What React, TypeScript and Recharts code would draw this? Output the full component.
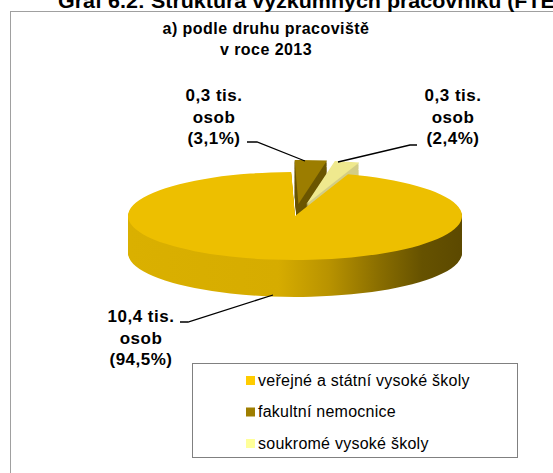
import React from "react";
import { PieChart, Pie, Cell } from "recharts";

// ─── Data ────────────────────────────────────────────────────────────────────

const CATEGORIES = [
  "veřejné a státní vysoké školy",
  "fakultní nemocnice",
  "soukromé vysoké školy",
];
const PERSONS = ["10,4", "0,3", "0,3"]; // tis. osob
const SHARES = [94.5, 3.1, 2.4]; // %

// ─── Look ────────────────────────────────────────────────────────────────────

const LEGEND_COLORS = ["#FFCC00", "#9E7E00", "#FFFF99"];
const TOP_COLORS = ["#EDBF00", "#9C7D00", "#EFE98E"];
const SIDE_COLORS = ["url(#sideBig)", "#6B5600", "#D3CD86"];
const EXPLODE = [0, 46, 46];

const FONT = '"Liberation Sans", Arial, sans-serif';

// 3D pie geometry (screen px), the pie is drawn flat and squashed by S
const CX = 295;
const CY_SCREEN = 216;
const RX = 167;
const RY = 44;
const THICK = 37;
const S = RY / RX;
const CYU = CY_SCREEN / S;
const THICK_U = THICK / S;
const STEP = 4;
const CHART_H = 1170;
const START = 71.5;

const pieData = CATEGORIES.map((name, i) => ({ name, value: SHARES[i] }));
const total = SHARES.reduce((a, b) => a + b, 0);

// mid angle of each slice, clockwise from 12 o'clock
function midAngle(i: number) {
  const before = SHARES.slice(0, i).reduce((a, b) => a + b, 0);
  return 90 - START + (360 * (before + SHARES[i] / 2)) / total;
}

function fmtShare(v: number) {
  return `(${v.toFixed(1).replace(".", ",")}%)`;
}

// label layout (screen px)
const LABELS = [
  { x: 141, y: 322, line: [[180, 322], [188, 322], [273, 295]] },
  { x: 214, y: 101, line: [[247, 142], [257, 142], [305, 161]] },
  { x: 453, y: 101, line: [[417, 145], [410, 145], [338, 162]] },
];

// ─── Pie layers ──────────────────────────────────────────────────────────────

function sliceLayers(idx: number) {
  const a = (midAngle(idx) * Math.PI) / 180;
  const dx = EXPLODE[idx] * Math.sin(a);
  const dy = -EXPLODE[idx] * Math.cos(a);
  const n = Math.round(THICK_U / STEP);
  const out = [];
  for (let k = n; k >= 0; k--) {
    out.push(
      <Pie
        key={`s${idx}-${k}`}
        data={pieData}
        dataKey="value"
        cx={CX + dx}
        cy={CYU + dy + k * STEP}
        outerRadius={RX}
        startAngle={START}
        endAngle={START - 360}
        stroke="none"
        isAnimationActive={false}
        legendType="none"
      >
        {pieData.map((_, j) => (
          <Cell
            key={j}
            fill={j === idx ? (k === 0 ? TOP_COLORS[idx] : SIDE_COLORS[idx]) : "none"}
          />
        ))}
      </Pie>,
    );
  }
  return out;
}

// ─── Chart ───────────────────────────────────────────────────────────────────

export default function App() {
  return (
    <div
      style={{
        position: "absolute",
        left: 0,
        top: 0,
        width: 553,
        height: 473,
        overflow: "hidden",
        background: "#fff",
        fontFamily: FONT,
      }}
    >
      {/* frame */}
      <div
        style={{
          position: "absolute",
          left: 10,
          top: 11,
          width: 600,
          height: 500,
          borderLeft: "1px solid #a0a0a0",
          borderTop: "1px solid #a0a0a0",
        }}
      />

      <div
        style={{
          position: "absolute",
          left: 0,
          top: 0,
          width: 553,
          height: CHART_H,
          transform: `scaleY(${S})`,
          transformOrigin: "0 0",
        }}
      >
        <PieChart width={553} height={CHART_H} margin={{ top: 0, right: 0, bottom: 0, left: 0 }}>
          <defs>
            <linearGradient
              id="sideBig"
              gradientUnits="userSpaceOnUse"
              x1={CX - RX}
              x2={CX + RX}
              y1={0}
              y2={0}
            >
              <stop offset="0" stopColor="#DAB000" />
              <stop offset="0.45" stopColor="#D6AC00" />
              <stop offset="0.6" stopColor="#B99300" />
              <stop offset="0.75" stopColor="#8A6E00" />
              <stop offset="0.88" stopColor="#665200" />
              <stop offset="1" stopColor="#5C4900" />
            </linearGradient>
          </defs>
          {sliceLayers(1)}
          {sliceLayers(2)}
          {sliceLayers(0)}
        </PieChart>
      </div>

      <svg
        width={553}
        height={473}
        style={{ position: "absolute", left: 0, top: 0, pointerEvents: "none" }}
        fontFamily={FONT}
      >
        {/* page title above the frame, cut by the page edge as in the source */}
        <text
          x={58}
          y={8}
          fontSize={21}
          fontWeight="bold"
          fill="#000"
          textLength={504}
          lengthAdjust="spacingAndGlyphs"
        >
          Graf 6.2: Struktura výzkumných pracovníků (FTE)
        </text>

        <g fontSize={16} fontWeight="bold" textAnchor="middle" fill="#000" letterSpacing={0.45}>
          <text x={266} y={34}>a) podle druhu pracoviště</text>
          <text x={266} y={55}>v roce 2013</text>
        </g>

        {LABELS.map((l, i) => (
          <g key={i}>
            <polyline
              points={l.line.map((p) => p.join(",")).join(" ")}
              fill="none"
              stroke="#000"
              strokeWidth={1.3}
            />
            <g fontSize={17} fontWeight="bold" textAnchor="middle" fill="#000" letterSpacing={0.5}>
              <text x={l.x} y={l.y}>{PERSONS[i]} tis.</text>
              <text x={l.x} y={l.y + 21.5}>osob</text>
              <text x={l.x} y={l.y + 43}>{fmtShare(SHARES[i])}</text>
            </g>
          </g>
        ))}

        <rect x={192.5} y={363.5} width={325} height={94} fill="#fff" stroke="#808080" />
        {CATEGORIES.map((c, i) => (
          <g key={c}>
            <rect x={246} y={376 + i * 31.5} width={9} height={9} fill={LEGEND_COLORS[i]} />
            <text x={258} y={385.5 + i * 31.5} fontSize={16} fill="#000" letterSpacing={0.25}>
              {c}
            </text>
          </g>
        ))}
      </svg>
    </div>
  );
}
